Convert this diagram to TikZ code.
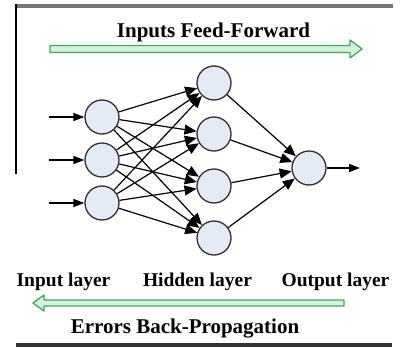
\documentclass[tikz,border=0pt]{standalone}
\usepackage{fontspec}
\setmainfont{Liberation Serif}
\usetikzlibrary{arrows.meta}
\definecolor{nodefill}{HTML}{E4EBF6}
\definecolor{nodeline}{HTML}{303030}
\definecolor{gline}{HTML}{3FA85E}
\definecolor{gfill}{HTML}{D2F4DA}
\definecolor{barg}{HTML}{777777}
\begin{document}
\begin{tikzpicture}[x=1pt,y=-1pt,
  neuron/.style={circle,draw=nodeline,fill=nodefill,line width=1.3pt,minimum size=34pt,inner sep=0pt},
  link/.style={line width=1.2pt,-{Triangle[length=12pt,width=10pt]}},
  inarrow/.style={line width=1.6pt,-{Triangle[length=11pt,width=8pt]}},
  garrow/.style={draw=gline,fill=gfill,line width=1.3pt,line join=round},
  title/.style={font=\fontsize{21}{21}\selectfont\bfseries,anchor=base,inner sep=0pt},
  lab/.style={font=\fontsize{19.5}{19.5}\selectfont\bfseries,anchor=base,inner sep=0pt}]
\useasboundingbox (0,0) rectangle (401,348);
% frame pieces
\fill[barg] (16,4) rectangle (393,7.5);
\fill[black!80] (16,343) rectangle (392,347);
\draw[line width=1.2pt] (16,4) -- (16,174);
% titles
\node[title] (tff) at (213.5,37) {Inputs Feed-Forward};
\node[title] (tbp) at (185,333) {Errors Back-Propagation};
\node[lab] (lin) at (63.5,286) {Input layer};
\node[lab] (lhid) at (197.5,286) {Hidden layer};
\node[lab] (lout) at (335.5,286) {Output layer};
% green arrows
\draw[garrow] (50,45.5) -- (350,45.5) -- (350,40) -- (362,49) -- (350,58) -- (350,52.5) -- (50,52.5) -- cycle;
\draw[garrow] (344,300) -- (44,300) -- (44,295) -- (33,303) -- (44,311) -- (44,306) -- (344,306) -- cycle;
% neurons
\node[neuron] (i1) at (102,117) {};
\node[neuron] (i2) at (102,160) {};
\node[neuron] (i3) at (102,203) {};
\node[neuron] (h1) at (214,83) {};
\node[neuron] (h2) at (214,134) {};
\node[neuron] (h3) at (214,186) {};
\node[neuron] (h4) at (214,238) {};
\node[neuron] (o1) at (309,168) {};
% input arrows
\coordinate (s1) at (49,117);
\coordinate (s2) at (49,160);
\coordinate (s3) at (49,203);
\coordinate (e1) at (360,168);
\foreach \k in {1,2,3}{\draw[inarrow] (s\k) -- (i\k);}
\foreach \a in {1,2,3}{\foreach \b in {1,2,3,4}{\draw[link] (i\a) -- (h\b);}}
\foreach \b in {1,2,3,4}{\draw[link] (h\b) -- (o1);}
\draw[inarrow] (o1) -- (e1);
\end{tikzpicture}
\end{document}
